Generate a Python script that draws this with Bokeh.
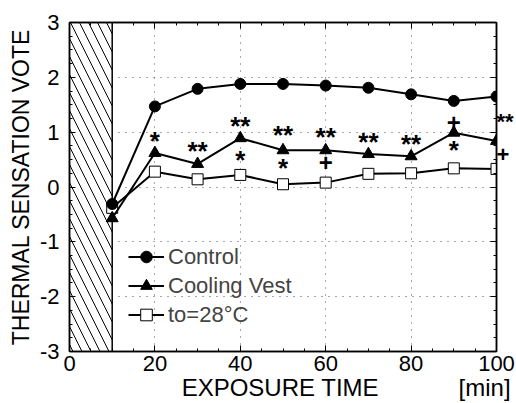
from bokeh.plotting import figure
from bokeh.models import LinearAxis, Legend, LegendItem, FixedTicker, CustomLabelingPolicy
from bokeh.core.properties import value
from bokeh.embed import file_html
from bokeh.resources import INLINE

time = [10, 20, 30, 40, 50, 60, 70, 80, 90, 100]
control = [-0.31, 1.47, 1.79, 1.88, 1.88, 1.85, 1.81, 1.69, 1.57, 1.65]
cooling = [-0.57, 0.62, 0.42, 0.89, 0.67, 0.67, 0.60, 0.56, 0.99, 0.84]
to28 = [-0.38, 0.28, 0.14, 0.22, 0.05, 0.08, 0.24, 0.25, 0.34, 0.33]

# significance marks
star_x = [20, 30, 40, 50, 60, 70, 80, 40, 50, 90]
star_y = [0.92, 0.73, 1.19, 1.02, 0.99, 0.90, 0.85, 0.57, 0.42, 0.75]
star_t = ["*", "**", "**", "**", "**", "**", "**", "*", "*", "*"]
plus_x = [90, 60]
plus_y = [1.18, 0.44]
# marks at t=100, just right of the frame
edge_y = [1.19, 0.59]
edge_t = ["**", "+"]

x_ticks = [0, 20, 40, 60, 80, 100]
y_ticks = [-3, -2, -1, 0, 1, 2, 3]
x_label = "EXPOSURE TIME"
x_unit = "[min]"
FONT = "Liberation Sans"
NB = "\u00a0"
NAN = float("nan")

p = figure(width=516, height=403, x_range=(0, 100), y_range=(-3, 3),
           output_backend="svg", toolbar_location=None,
           min_border_left=69, min_border_right=19, min_border_top=22, min_border_bottom=51)
p.outline_line_color = "black"
p.outline_line_width = 1.5

p.quad(left=[0], right=[10], bottom=[-3], top=[3], fill_color="white",
       hatch_pattern="\\", hatch_scale=18, hatch_weight=1, hatch_color="black",
       line_color="black", line_width=1.5)

for ax in (p.xaxis[0], p.yaxis[0]):
    ax.major_tick_in = 6
    ax.major_tick_out = 0
    ax.minor_tick_in = 3
    ax.minor_tick_out = 0
    ax.axis_line_width = 1.5
    ax.major_label_text_font = FONT
    ax.major_label_text_font_size = "22px"
    ax.major_label_text_color = "black"
    ax.axis_label_text_font = FONT
    ax.axis_label_text_font_style = "normal"
    ax.axis_label_text_color = "black"

p.xaxis[0].ticker = FixedTicker(ticks=x_ticks, minor_ticks=list(range(0, 101, 5)))
p.yaxis[0].ticker = FixedTicker(ticks=y_ticks, minor_ticks=[v / 4 for v in range(-12, 13)])
p.yaxis[0].major_label_overrides = {t: str(t) for t in y_ticks}
p.xaxis[0].axis_label = NB * 19 + x_label + NB * 12 + x_unit
p.xaxis[0].axis_label_text_font_size = "24px"
p.xaxis[0].axis_label_standoff = 0
p.xaxis[0].major_label_standoff = 4
p.yaxis[0].axis_label = "THERMAL SENSATION VOTE"
p.yaxis[0].axis_label_text_font_size = "23px"
p.yaxis[0].axis_label_standoff = 3
p.yaxis[0].major_label_standoff = 10

no_labels = CustomLabelingPolicy(code="for (const i of Array.from(indices)) indices.unset(i); return indices;")
for loc in ("right", "above"):
    ax = LinearAxis(ticker=FixedTicker(ticks=x_ticks if loc == "above" else y_ticks,
                                       minor_ticks=list(range(0, 101, 5)) if loc == "above" else [v / 4 for v in range(-12, 13)]),
                    major_label_text_font_size="0px", major_label_standoff=0,
                    major_label_policy=no_labels,
                    major_tick_in=6, major_tick_out=0,
                    minor_tick_in=3, minor_tick_out=0, axis_line_width=1.5)
    p.add_layout(ax, loc)

# marks for t=100 drawn just outside the frame on the right
mark_axis = LinearAxis(ticker=FixedTicker(ticks=edge_y, minor_ticks=[]),
                       major_label_overrides={v: t for v, t in zip(edge_y, edge_t)},
                       major_label_text_font=FONT, major_label_text_font_size="22px",
                       major_label_text_font_style="bold", major_label_text_color="black",
                       major_label_standoff=0, major_tick_in=0, major_tick_out=0,
                       minor_tick_in=0, minor_tick_out=0, axis_line_color=None)
p.add_layout(mark_axis, "right")

p.xgrid.ticker = FixedTicker(ticks=[20, 40, 60, 80])
p.ygrid.ticker = FixedTicker(ticks=[-2, -1, 0, 1, 2])
for g in (p.xgrid[0], p.ygrid[0]):
    g.grid_line_color = "#555555"
    g.grid_line_dash = "1 6"
    g.grid_line_width = 1

l3 = p.line(time, to28, line_color="black", line_width=2)
p.scatter(time, to28, marker="square", size=11, fill_color="white", line_color="black", line_width=1)
l2 = p.line(time, cooling, line_color="black", line_width=2)
p.scatter(time, cooling, marker="triangle", size=12, fill_color="black", line_color="black")
l1 = p.line(time, control, line_color="black", line_width=2)
p.scatter(time, control, marker="circle", size=11, fill_color="black", line_color="black")

# smaller legend-only marker glyphs (NaN data, not drawn in the plot)
k1 = p.scatter([NAN], [NAN], marker="circle", size=8, fill_color="black", line_color="black")
k2 = p.scatter([NAN], [NAN], marker="triangle", size=9, fill_color="black", line_color="black")
k3 = p.scatter([NAN], [NAN], marker="square", size=8, fill_color="white", line_color="black", line_width=1)

p.text(star_x, star_y, text=star_t, text_font=value(FONT), text_font_size="26px",
       text_font_style="bold", text_align="center", text_baseline="middle",
       y_offset=4, text_color="black")
p.text(plus_x, plus_y, text=["+"] * len(plus_x), text_font=value(FONT), text_font_size="24px",
       text_font_style="bold", text_align="center", text_baseline="middle", text_color="black")

legend = Legend(items=[LegendItem(label="Control", renderers=[l1, k1]),
                       LegendItem(label="Cooling Vest", renderers=[l2, k2]),
                       LegendItem(label="to=28\u00b0C", renderers=[l3, k3])],
                location=(59, 22), padding=0, margin=0, spacing=0,
                label_height=29, glyph_height=29, glyph_width=36, label_standoff=4,
                label_text_font=FONT, label_text_font_size="22px",
                background_fill_alpha=0, border_line_alpha=0)
p.add_layout(legend)

open("out.html", "w").write(file_html(p, INLINE))
